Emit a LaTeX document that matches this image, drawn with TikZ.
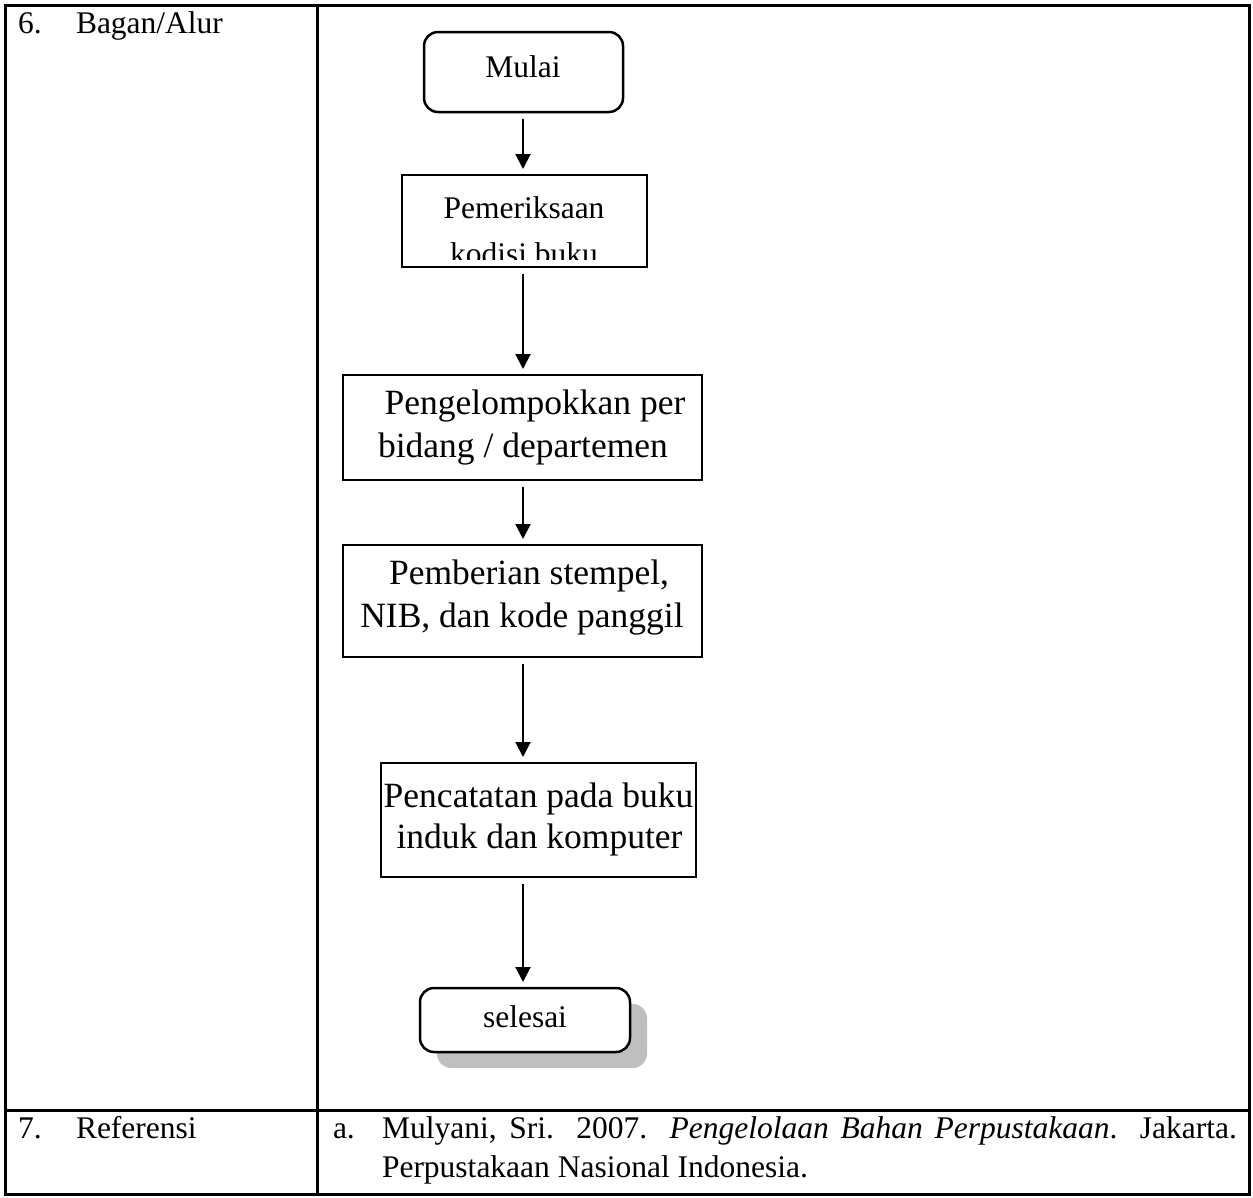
\documentclass[tikz,border=0pt]{standalone}
\usepackage{fontspec}
\setmainfont{Liberation Serif}
\usetikzlibrary{arrows.meta,shadows}
\begin{document}
\begin{tikzpicture}[x=1pt,y=-1pt,
  every node/.style={inner sep=0pt,outer sep=0pt,font=\fontsize{31.5}{40}\selectfont},
  frame/.style={line width=3pt},
  stepbox/.style={draw,line width=2.5pt,rectangle,minimum width=#1},
  endbox/.style={draw,line width=2.5pt,rectangle,rounded corners=14pt,fill=white,minimum width=#1},
  txt/.style={anchor=base},
  bigtxt/.style={anchor=base,font=\fontsize{35.5}{44}\selectfont},
  lefttxt/.style={anchor=base west},
  flow/.style={line width=2pt,-{Triangle[length=15pt,width=15pt]},shorten <=7pt,shorten >=6pt}
]
\useasboundingbox (0,0) rectangle (1253,1197);

% table frame
\draw[frame] (5,5) rectangle (1249,1194);
\draw[frame] (317,5) -- (317,1194);
\draw[frame] (5,1110) -- (1249,1110);

% left column labels
\node[lefttxt] (n6) at (18,33) {6.};
\node[lefttxt] (l6) at (76,33) {Bagan/Alur};
\node[lefttxt] (n7) at (18,1138) {7.};
\node[lefttxt] (l7) at (76,1138) {Referensi};

% reference entry
\node[lefttxt] (ra) at (333,1138) {a.};
\node[lefttxt] (rtext) at (382,1138) {\parbox[t]{855pt}{\fontsize{31.5}{39}\selectfont\emergencystretch=3em
Mulyani, Sri. 2007. \textit{Pengelolaan Bahan Perpustakaan}. Jakarta.\linebreak
Perpustakaan Nasional Indonesia.}};

% flowchart boxes
\node[endbox=199pt,minimum height=80pt] (mulai) at (523.5,72) {};
\node[stepbox=245pt,minimum height=92pt] (periksa) at (524.5,221) {};
\node[stepbox=359pt,minimum height=105pt] (kelompok) at (522.5,427.5) {};
\node[stepbox=359pt,minimum height=112pt] (beri) at (522.5,601) {};
\node[stepbox=315pt,minimum height=114pt] (catat) at (538.5,820) {};
\node[endbox=210pt,minimum height=64pt,
  drop shadow={shadow xshift=17pt,shadow yshift=-16pt,fill=black!25,opacity=1}] (selesai) at (525,1020) {};

% box texts
\node[txt] (tmulai) at (523,77) {Mulai};
\begin{scope}
  \clip (402,175) rectangle (647,259);
  \node[txt] (tperiksa1) at (524,218) {Pemeriksaan};
  \node[txt] (tperiksa2) at (524,264) {kodisi buku};
\end{scope}
\node[bigtxt] (tkelompok1) at (535,414) {Pengelompokkan per};
\node[bigtxt] (tkelompok2) at (523,457) {bidang / departemen};
\node[bigtxt] (tberi1) at (529,584) {Pemberian stempel,};
\node[bigtxt] (tberi2) at (522,627) {NIB, dan kode panggil};
\node[bigtxt] (tcatat1) at (538.5,807) {Pencatatan pada buku};
\node[bigtxt] (tcatat2) at (539.5,848) {induk dan komputer};
\node[txt] (tselesai) at (525,1027) {selesai};

% connectors
\coordinate (ax) at (523,0);
\draw[flow] (mulai.south -| ax) -- (periksa.north -| ax);
\draw[flow] (periksa.south -| ax) -- (kelompok.north -| ax);
\draw[flow] (kelompok.south -| ax) -- (beri.north -| ax);
\draw[flow] (beri.south -| ax) -- (catat.north -| ax);
\draw[flow] (catat.south -| ax) -- (selesai.north -| ax);
\end{tikzpicture}
\end{document}
